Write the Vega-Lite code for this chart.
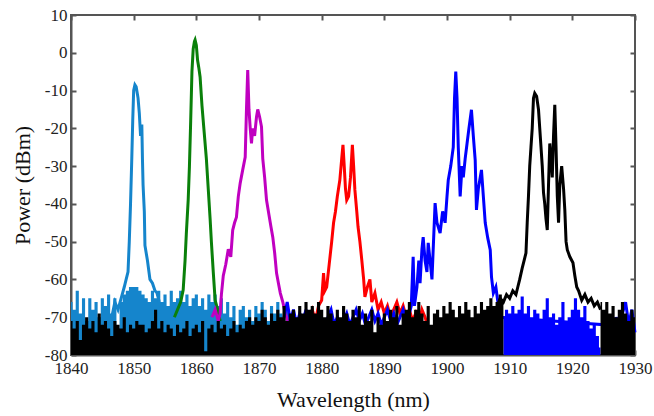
{
"$schema": "https://vega.github.io/schema/vega-lite/v6.json",
"width": 564, "height": 340,
"autosize": "none",
"padding": {"left": 71, "top": 15, "right": 19, "bottom": 61},
"background": "white",
"config": {
 "view": {"stroke": "#555", "strokeWidth": 2},
 "axis": {"labelFont": "Liberation Serif", "titleFont": "Liberation Serif", "labelFontSize": 17, "titleFontSize": 22, "titleFontWeight": "normal", "labelColor": "#222", "titleColor": "#111", "domainColor": "#555", "tickColor": "#555", "domainWidth": 2, "tickWidth": 2, "tickSize": -5, "grid": false}
},
"datasets": {
"fl": [
{"s":"lb","w":1840,"p":-66},{"s":"lb","w":1840.5,"p":-68},{"s":"lb","w":1841,"p":-63},{"s":"lb","w":1841.5,"p":-69},{"s":"lb","w":1842,"p":-65},{"s":"lb","w":1842.5,"p":-71},{"s":"lb","w":1843,"p":-65},{"s":"lb","w":1843.5,"p":-68},{"s":"lb","w":1844,"p":-66},{"s":"lb","w":1844.5,"p":-70},{"s":"lb","w":1845,"p":-65},{"s":"lb","w":1845.5,"p":-67},{"s":"lb","w":1846,"p":-64},{"s":"lb","w":1846.5,"p":-69},{"s":"lb","w":1847,"p":-65},{"s":"lb","w":1847.5,"p":-73},{"s":"lb","w":1848,"p":-66},{"s":"lb","w":1848.5,"p":-64},{"s":"lb","w":1849,"p":-63},{"s":"lb","w":1849.5,"p":-62},{"s":"lb","w":1850,"p":-62},{"s":"lb","w":1850.5,"p":-62},{"s":"lb","w":1851,"p":-63},{"s":"lb","w":1851.5,"p":-64},{"s":"lb","w":1852,"p":-65},{"s":"lb","w":1852.5,"p":-66},{"s":"lb","w":1853,"p":-63},{"s":"lb","w":1853.5,"p":-65},{"s":"lb","w":1854,"p":-63},{"s":"lb","w":1854.5,"p":-66},{"s":"lb","w":1855,"p":-64},{"s":"lb","w":1855.5,"p":-67},{"s":"lb","w":1856,"p":-63},{"s":"lb","w":1856.5,"p":-66},{"s":"lb","w":1857,"p":-65},{"s":"lb","w":1857.5,"p":-63},{"s":"lb","w":1858,"p":-66},{"s":"lb","w":1858.5,"p":-64},{"s":"lb","w":1859,"p":-67},{"s":"lb","w":1859.5,"p":-65},{"s":"lb","w":1860,"p":-64},{"s":"lb","w":1860.5,"p":-67},{"s":"lb","w":1861,"p":-65},{"s":"lb","w":1861.5,"p":-68},{"s":"lb","w":1862,"p":-64},{"s":"lb","w":1862.5,"p":-66},{"s":"lb","w":1863,"p":-64},{"s":"lb","w":1863.5,"p":-67},{"s":"lb","w":1864,"p":-65},{"s":"lb","w":1864.5,"p":-69},{"s":"lb","w":1865,"p":-66},{"s":"lb","w":1865.5,"p":-70},{"s":"lb","w":1866,"p":-67},{"s":"lb","w":1866.5,"p":-72},{"s":"lb","w":1867,"p":-68},{"s":"lb","w":1867.5,"p":-67},{"s":"lb","w":1868,"p":-70},{"s":"lb","w":1868.5,"p":-68},{"s":"lb","w":1869,"p":-71},{"s":"lb","w":1869.5,"p":-67},{"s":"lb","w":1870,"p":-69},{"s":"lb","w":1870.5,"p":-66},{"s":"lb","w":1871,"p":-68},{"s":"lb","w":1871.5,"p":-71},{"s":"lb","w":1872,"p":-67},{"s":"lb","w":1872.5,"p":-69},{"s":"lb","w":1873,"p":-66},{"s":"lb","w":1873.5,"p":-69},{"s":"lb","w":1874,"p":-71},{"s":"lb","w":1874.5,"p":-68},{"s":"lb","w":1875,"p":-72},{"s":"lb","w":1875.5,"p":-75},{"s":"lb","w":1876,"p":-78},
{"s":"b","w":1909,"p":-70},{"s":"b","w":1909.5,"p":-68},{"s":"b","w":1910,"p":-69},{"s":"b","w":1910.5,"p":-67},{"s":"b","w":1911,"p":-69},{"s":"b","w":1911.5,"p":-68},{"s":"b","w":1912,"p":-64.5},{"s":"b","w":1912.5,"p":-69},{"s":"b","w":1913,"p":-67},{"s":"b","w":1913.5,"p":-70},{"s":"b","w":1914,"p":-68},{"s":"b","w":1914.5,"p":-69},{"s":"b","w":1915,"p":-71},{"s":"b","w":1915.5,"p":-68},{"s":"b","w":1916,"p":-65},{"s":"b","w":1916.5,"p":-70},{"s":"b","w":1917,"p":-69},{"s":"b","w":1917.5,"p":-72},{"s":"b","w":1918,"p":-70},{"s":"b","w":1918.5,"p":-66},{"s":"b","w":1919,"p":-71},{"s":"b","w":1919.5,"p":-70},{"s":"b","w":1920,"p":-68},{"s":"b","w":1920.5,"p":-65},{"s":"b","w":1921,"p":-68},{"s":"b","w":1921.5,"p":-70},{"s":"b","w":1922,"p":-67},{"s":"b","w":1922.5,"p":-71},{"s":"b","w":1923,"p":-73},{"s":"b","w":1923.5,"p":-72},{"s":"b","w":1924,"p":-75},{"s":"b","w":1924.5,"p":-78},
{"s":"k","w":1840,"p":-71},{"s":"k","w":1840.5,"p":-73},{"s":"k","w":1841,"p":-71},{"s":"k","w":1841.5,"p":-76},{"s":"k","w":1842,"p":-72},{"s":"k","w":1842.5,"p":-70},{"s":"k","w":1843,"p":-73},{"s":"k","w":1843.5,"p":-71},{"s":"k","w":1844,"p":-74},{"s":"k","w":1844.5,"p":-69},{"s":"k","w":1845,"p":-72},{"s":"k","w":1845.5,"p":-71},{"s":"k","w":1846,"p":-73},{"s":"k","w":1846.5,"p":-75},{"s":"k","w":1847,"p":-71},{"s":"k","w":1847.5,"p":-72},{"s":"k","w":1848,"p":-73},{"s":"k","w":1848.5,"p":-70},{"s":"k","w":1849,"p":-74},{"s":"k","w":1849.5,"p":-72},{"s":"k","w":1850,"p":-73},{"s":"k","w":1850.5,"p":-71},{"s":"k","w":1851,"p":-72},{"s":"k","w":1851.5,"p":-72},{"s":"k","w":1852,"p":-74},{"s":"k","w":1852.5,"p":-73},{"s":"k","w":1853,"p":-71},{"s":"k","w":1853.5,"p":-68},{"s":"k","w":1854,"p":-73},{"s":"k","w":1854.5,"p":-71},{"s":"k","w":1855,"p":-74},{"s":"k","w":1855.5,"p":-72},{"s":"k","w":1856,"p":-73},{"s":"k","w":1856.5,"p":-75},{"s":"k","w":1857,"p":-72},{"s":"k","w":1857.5,"p":-74},{"s":"k","w":1858,"p":-73},{"s":"k","w":1858.5,"p":-71},{"s":"k","w":1859,"p":-75},{"s":"k","w":1859.5,"p":-73},{"s":"k","w":1860,"p":-72},{"s":"k","w":1860.5,"p":-74},{"s":"k","w":1861,"p":-71},{"s":"k","w":1861.5,"p":-79},{"s":"k","w":1862,"p":-73},{"s":"k","w":1862.5,"p":-72},{"s":"k","w":1863,"p":-74},{"s":"k","w":1863.5,"p":-71},{"s":"k","w":1864,"p":-73},{"s":"k","w":1864.5,"p":-72},{"s":"k","w":1865,"p":-75},{"s":"k","w":1865.5,"p":-73},{"s":"k","w":1866,"p":-71},{"s":"k","w":1866.5,"p":-74},{"s":"k","w":1867,"p":-72},{"s":"k","w":1867.5,"p":-73},{"s":"k","w":1868,"p":-71},{"s":"k","w":1868.5,"p":-70},{"s":"k","w":1869,"p":-72},{"s":"k","w":1869.5,"p":-70},{"s":"k","w":1870,"p":-71},{"s":"k","w":1870.5,"p":-68},{"s":"k","w":1871,"p":-70},{"s":"k","w":1871.5,"p":-72},{"s":"k","w":1872,"p":-69},{"s":"k","w":1872.5,"p":-71},{"s":"k","w":1873,"p":-68},{"s":"k","w":1873.5,"p":-70},{"s":"k","w":1874,"p":-67},{"s":"k","w":1874.5,"p":-71},{"s":"k","w":1875,"p":-69},{"s":"k","w":1875.5,"p":-68},{"s":"k","w":1876,"p":-70},{"s":"k","w":1876.5,"p":-67},{"s":"k","w":1877,"p":-69},{"s":"k","w":1877.5,"p":-66},{"s":"k","w":1878,"p":-68},{"s":"k","w":1878.5,"p":-67},{"s":"k","w":1879,"p":-69},{"s":"k","w":1879.5,"p":-66},{"s":"k","w":1880,"p":-68},{"s":"k","w":1880.5,"p":-70},{"s":"k","w":1881,"p":-67},{"s":"k","w":1881.5,"p":-69},{"s":"k","w":1882,"p":-71},{"s":"k","w":1882.5,"p":-68},{"s":"k","w":1883,"p":-70},{"s":"k","w":1883.5,"p":-67},{"s":"k","w":1884,"p":-69},{"s":"k","w":1884.5,"p":-71},{"s":"k","w":1885,"p":-68},{"s":"k","w":1885.5,"p":-70},{"s":"k","w":1886,"p":-67},{"s":"k","w":1886.5,"p":-72},{"s":"k","w":1887,"p":-69},{"s":"k","w":1887.5,"p":-71},{"s":"k","w":1888,"p":-68},{"s":"k","w":1888.5,"p":-74},{"s":"k","w":1889,"p":-70},{"s":"k","w":1889.5,"p":-72},{"s":"k","w":1890,"p":-69},{"s":"k","w":1890.5,"p":-71},{"s":"k","w":1891,"p":-68},{"s":"k","w":1891.5,"p":-70},{"s":"k","w":1892,"p":-67},{"s":"k","w":1892.5,"p":-72},{"s":"k","w":1893,"p":-69},{"s":"k","w":1893.5,"p":-68},{"s":"k","w":1894,"p":-66},{"s":"k","w":1894.5,"p":-70},{"s":"k","w":1895,"p":-68},{"s":"k","w":1895.5,"p":-66},{"s":"k","w":1896,"p":-69},{"s":"k","w":1896.5,"p":-71},{"s":"k","w":1897,"p":-67},{"s":"k","w":1897.5,"p":-72},{"s":"k","w":1898,"p":-69},{"s":"k","w":1898.5,"p":-68},{"s":"k","w":1899,"p":-70},{"s":"k","w":1899.5,"p":-67},{"s":"k","w":1900,"p":-69},{"s":"k","w":1900.5,"p":-66},{"s":"k","w":1901,"p":-68},{"s":"k","w":1901.5,"p":-70},{"s":"k","w":1902,"p":-67},{"s":"k","w":1902.5,"p":-69},{"s":"k","w":1903,"p":-66},{"s":"k","w":1903.5,"p":-68},{"s":"k","w":1904,"p":-70},{"s":"k","w":1904.5,"p":-67},{"s":"k","w":1905,"p":-69},{"s":"k","w":1905.5,"p":-66},{"s":"k","w":1906,"p":-68},{"s":"k","w":1906.5,"p":-67},{"s":"k","w":1907,"p":-65},{"s":"k","w":1907.5,"p":-67},{"s":"k","w":1908,"p":-66},{"s":"k","w":1908.5,"p":-64},{"s":"k","w":1909,"p":-66},
{"s":"k2","w":1924.5,"p":-66},{"s":"k2","w":1925,"p":-68},{"s":"k2","w":1925.5,"p":-66},{"s":"k2","w":1926,"p":-69},{"s":"k2","w":1926.5,"p":-67},{"s":"k2","w":1927,"p":-70},{"s":"k2","w":1927.5,"p":-68},{"s":"k2","w":1928,"p":-66},{"s":"k2","w":1928.5,"p":-69},{"s":"k2","w":1929,"p":-71},{"s":"k2","w":1929.5,"p":-68},{"s":"k2","w":1930,"p":-70}
],
"pk": [
{"s":"lb","w":1846.5,"p":-70},{"s":"lb","w":1847,"p":-66},{"s":"lb","w":1847.5,"p":-68},{"s":"lb","w":1848,"p":-65},{"s":"lb","w":1848.5,"p":-62},{"s":"lb","w":1848.8,"p":-60},{"s":"lb","w":1849.1,"p":-58},{"s":"lb","w":1849.3,"p":-50},{"s":"lb","w":1849.5,"p":-40},{"s":"lb","w":1849.7,"p":-28},{"s":"lb","w":1849.85,"p":-18},{"s":"lb","w":1850,"p":-10},{"s":"lb","w":1850.2,"p":-8.5},{"s":"lb","w":1850.4,"p":-9},{"s":"lb","w":1850.6,"p":-11},{"s":"lb","w":1850.7,"p":-12},{"s":"lb","w":1850.9,"p":-16},{"s":"lb","w":1851.1,"p":-22},{"s":"lb","w":1851.3,"p":-19},{"s":"lb","w":1851.4,"p":-28},{"s":"lb","w":1851.5,"p":-35},{"s":"lb","w":1851.7,"p":-42},{"s":"lb","w":1851.8,"p":-51},{"s":"lb","w":1852.2,"p":-55},{"s":"lb","w":1852.6,"p":-60},{"s":"lb","w":1853,"p":-61},{"s":"lb","w":1853.4,"p":-63},{"s":"lb","w":1853.7,"p":-63.5},{"s":"lb","w":1854.1,"p":-66},{"s":"lb","w":1854.5,"p":-68},
{"s":"g","w":1856.5,"p":-70},{"s":"g","w":1857,"p":-68},{"s":"g","w":1857.5,"p":-66},{"s":"g","w":1857.9,"p":-62.8},{"s":"g","w":1858.2,"p":-55},{"s":"g","w":1858.4,"p":-48},{"s":"g","w":1858.7,"p":-39},{"s":"g","w":1858.9,"p":-30},{"s":"g","w":1859.1,"p":-18},{"s":"g","w":1859.3,"p":-5},{"s":"g","w":1859.5,"p":1},{"s":"g","w":1859.7,"p":3},{"s":"g","w":1859.8,"p":3.4},{"s":"g","w":1860,"p":2},{"s":"g","w":1860.2,"p":-2},{"s":"g","w":1860.4,"p":-4},{"s":"g","w":1860.6,"p":-6.4},{"s":"g","w":1860.9,"p":-14},{"s":"g","w":1861.2,"p":-20},{"s":"g","w":1861.6,"p":-28},{"s":"g","w":1861.9,"p":-36},{"s":"g","w":1862.2,"p":-44},{"s":"g","w":1862.4,"p":-50},{"s":"g","w":1862.7,"p":-58},{"s":"g","w":1863,"p":-65.5},{"s":"g","w":1863.4,"p":-68},{"s":"g","w":1863.8,"p":-71},
{"s":"m","w":1862.5,"p":-70},{"s":"m","w":1863,"p":-68},{"s":"m","w":1863.5,"p":-71},{"s":"m","w":1863.8,"p":-69},{"s":"m","w":1864,"p":-64},{"s":"m","w":1864.3,"p":-59},{"s":"m","w":1864.7,"p":-56},{"s":"m","w":1865.1,"p":-52},{"s":"m","w":1865.5,"p":-54},{"s":"m","w":1865.8,"p":-47},{"s":"m","w":1866.1,"p":-45},{"s":"m","w":1866.4,"p":-43.5},{"s":"m","w":1866.7,"p":-38},{"s":"m","w":1867,"p":-34.5},{"s":"m","w":1867.4,"p":-31},{"s":"m","w":1867.8,"p":-27.6},{"s":"m","w":1868,"p":-15},{"s":"m","w":1868.2,"p":-4.6},{"s":"m","w":1868.4,"p":-15},{"s":"m","w":1868.6,"p":-20},{"s":"m","w":1868.8,"p":-24},{"s":"m","w":1869,"p":-20},{"s":"m","w":1869.3,"p":-22},{"s":"m","w":1869.6,"p":-17},{"s":"m","w":1869.8,"p":-15},{"s":"m","w":1870.1,"p":-17},{"s":"m","w":1870.4,"p":-19.6},{"s":"m","w":1870.6,"p":-28},{"s":"m","w":1870.9,"p":-33},{"s":"m","w":1871.2,"p":-39},{"s":"m","w":1871.6,"p":-43},{"s":"m","w":1871.9,"p":-46},{"s":"m","w":1872.2,"p":-48.8},{"s":"m","w":1872.5,"p":-53},{"s":"m","w":1872.8,"p":-58.3},{"s":"m","w":1873.1,"p":-61},{"s":"m","w":1873.4,"p":-63.6},{"s":"m","w":1873.8,"p":-66},{"s":"m","w":1874.2,"p":-69},{"s":"m","w":1874.6,"p":-71},
{"s":"r","w":1878,"p":-70},{"s":"r","w":1878.5,"p":-68},{"s":"r","w":1879,"p":-71},{"s":"r","w":1879.5,"p":-67},{"s":"r","w":1880,"p":-65.5},{"s":"r","w":1880.3,"p":-58.3},{"s":"r","w":1880.5,"p":-63},{"s":"r","w":1880.8,"p":-62},{"s":"r","w":1881.2,"p":-56},{"s":"r","w":1881.6,"p":-50},{"s":"r","w":1881.9,"p":-45},{"s":"r","w":1882.2,"p":-42},{"s":"r","w":1882.5,"p":-38},{"s":"r","w":1882.9,"p":-33.7},{"s":"r","w":1883.2,"p":-28},{"s":"r","w":1883.4,"p":-24.4},{"s":"r","w":1883.6,"p":-30},{"s":"r","w":1883.8,"p":-36},{"s":"r","w":1884,"p":-39},{"s":"r","w":1884.3,"p":-38},{"s":"r","w":1884.6,"p":-33},{"s":"r","w":1884.9,"p":-24.4},{"s":"r","w":1885.1,"p":-30},{"s":"r","w":1885.3,"p":-36.3},{"s":"r","w":1885.6,"p":-42},{"s":"r","w":1885.8,"p":-46},{"s":"r","w":1886.1,"p":-50},{"s":"r","w":1886.4,"p":-54.8},{"s":"r","w":1886.7,"p":-60},{"s":"r","w":1886.9,"p":-64.6},{"s":"r","w":1887.3,"p":-62},{"s":"r","w":1887.7,"p":-60},{"s":"r","w":1888,"p":-66},{"s":"r","w":1888.5,"p":-63.6},{"s":"r","w":1889,"p":-68},{"s":"r","w":1889.5,"p":-66},{"s":"r","w":1890,"p":-69},{"s":"r","w":1890.5,"p":-67},{"s":"r","w":1891,"p":-70},{"s":"r","w":1891.5,"p":-68},{"s":"r","w":1892,"p":-66},{"s":"r","w":1892.5,"p":-69},{"s":"r","w":1893,"p":-67},{"s":"r","w":1893.5,"p":-70},{"s":"r","w":1894,"p":-68},{"s":"r","w":1894.5,"p":-71},{"s":"r","w":1895,"p":-69},{"s":"r","w":1895.5,"p":-72},{"s":"r","w":1896,"p":-68},{"s":"r","w":1896.5,"p":-70},{"s":"r","w":1897,"p":-73},{"s":"r","w":1897.5,"p":-75},
{"s":"b","w":1874,"p":-70},{"s":"b","w":1874.5,"p":-66},{"s":"b","w":1875,"p":-71},{"s":"b","w":1875.5,"p":-68},{"s":"b","w":1876,"p":-72},{"s":"b","w":1876.5,"p":-69},{"s":"b","w":1877,"p":-71},{"s":"b","w":1877.5,"p":-68},{"s":"b","w":1878,"p":-72},{"s":"b","w":1878.5,"p":-70},{"s":"b","w":1879,"p":-73},{"s":"b","w":1879.5,"p":-69},{"s":"b","w":1880,"p":-71},{"s":"b","w":1880.5,"p":-74},{"s":"b","w":1881,"p":-70},{"s":"b","w":1881.5,"p":-68},{"s":"b","w":1882,"p":-72},{"s":"b","w":1882.5,"p":-70},{"s":"b","w":1883,"p":-73},{"s":"b","w":1883.5,"p":-71},{"s":"b","w":1884,"p":-69},{"s":"b","w":1884.5,"p":-72},{"s":"b","w":1885,"p":-70},{"s":"b","w":1885.5,"p":-68},{"s":"b","w":1886,"p":-71},{"s":"b","w":1886.5,"p":-69},{"s":"b","w":1887,"p":-72},{"s":"b","w":1887.5,"p":-70},{"s":"b","w":1888,"p":-68},{"s":"b","w":1888.5,"p":-71},{"s":"b","w":1889,"p":-69},{"s":"b","w":1889.5,"p":-72},{"s":"b","w":1890,"p":-70},{"s":"b","w":1890.5,"p":-68},{"s":"b","w":1891,"p":-71},{"s":"b","w":1891.5,"p":-69},{"s":"b","w":1892,"p":-72},{"s":"b","w":1892.5,"p":-70},{"s":"b","w":1893,"p":-68},{"s":"b","w":1893.5,"p":-71},{"s":"b","w":1894,"p":-69},{"s":"b","w":1894.3,"p":-67},{"s":"b","w":1894.6,"p":-54},{"s":"b","w":1894.8,"p":-67},{"s":"b","w":1895.2,"p":-62},{"s":"b","w":1895.5,"p":-55},{"s":"b","w":1895.7,"p":-61},{"s":"b","w":1896,"p":-52},{"s":"b","w":1896.2,"p":-48.8},{"s":"b","w":1896.5,"p":-55},{"s":"b","w":1896.8,"p":-58},{"s":"b","w":1897,"p":-50.3},{"s":"b","w":1897.3,"p":-55},{"s":"b","w":1897.6,"p":-60},{"s":"b","w":1898.1,"p":-39.8},{"s":"b","w":1898.4,"p":-45},{"s":"b","w":1898.9,"p":-47.7},{"s":"b","w":1899.3,"p":-42},{"s":"b","w":1899.7,"p":-45},{"s":"b","w":1900,"p":-38},{"s":"b","w":1900.2,"p":-33.7},{"s":"b","w":1900.6,"p":-30},{"s":"b","w":1901,"p":-25},{"s":"b","w":1901.2,"p":-12},{"s":"b","w":1901.4,"p":-5},{"s":"b","w":1901.6,"p":-12},{"s":"b","w":1901.8,"p":-25},{"s":"b","w":1902.1,"p":-38},{"s":"b","w":1902.4,"p":-30},{"s":"b","w":1902.6,"p":-33},{"s":"b","w":1902.9,"p":-28},{"s":"b","w":1903.2,"p":-24},{"s":"b","w":1903.5,"p":-20},{"s":"b","w":1903.9,"p":-15.1},{"s":"b","w":1904.2,"p":-22},{"s":"b","w":1904.5,"p":-28.4},{"s":"b","w":1904.7,"p":-41.6},{"s":"b","w":1905,"p":-36},{"s":"b","w":1905.5,"p":-31},{"s":"b","w":1905.8,"p":-38},{"s":"b","w":1906.1,"p":-45},{"s":"b","w":1906.5,"p":-49},{"s":"b","w":1906.9,"p":-52.2},{"s":"b","w":1907.1,"p":-59.3},{"s":"b","w":1907.4,"p":-63.6},{"s":"b","w":1907.8,"p":-62},{"s":"b","w":1908.2,"p":-67},{"s":"b","w":1908.6,"p":-70},{"s":"b","w":1925,"p":-72},{"s":"b","w":1925.5,"p":-75},{"s":"b","w":1926,"p":-71},{"s":"b","w":1926.5,"p":-74},{"s":"b","w":1927,"p":-70},{"s":"b","w":1927.5,"p":-73},{"s":"b","w":1928,"p":-69},{"s":"b","w":1928.5,"p":-66},{"s":"b","w":1929,"p":-72},{"s":"b","w":1929.5,"p":-68},{"s":"b","w":1930,"p":-74},
{"s":"k","w":1908,"p":-67},{"s":"k","w":1908.5,"p":-65},{"s":"k","w":1909,"p":-66},{"s":"k","w":1909.5,"p":-64},{"s":"k","w":1910,"p":-65},{"s":"k","w":1910.5,"p":-63},{"s":"k","w":1911,"p":-64},{"s":"k","w":1911.3,"p":-62},{"s":"k","w":1911.6,"p":-60},{"s":"k","w":1912,"p":-57},{"s":"k","w":1912.3,"p":-55},{"s":"k","w":1912.6,"p":-53},{"s":"k","w":1912.8,"p":-45},{"s":"k","w":1913,"p":-38},{"s":"k","w":1913.2,"p":-30},{"s":"k","w":1913.4,"p":-25},{"s":"k","w":1913.6,"p":-20},{"s":"k","w":1913.8,"p":-12},{"s":"k","w":1914,"p":-10.7},{"s":"k","w":1914.3,"p":-11.5},{"s":"k","w":1914.6,"p":-15},{"s":"k","w":1914.8,"p":-20},{"s":"k","w":1915,"p":-25},{"s":"k","w":1915.2,"p":-30},{"s":"k","w":1915.4,"p":-37},{"s":"k","w":1915.6,"p":-40},{"s":"k","w":1915.8,"p":-44},{"s":"k","w":1916,"p":-46.9},{"s":"k","w":1916.2,"p":-35},{"s":"k","w":1916.4,"p":-24},{"s":"k","w":1916.6,"p":-28},{"s":"k","w":1916.8,"p":-33},{"s":"k","w":1917,"p":-22},{"s":"k","w":1917.2,"p":-13.8},{"s":"k","w":1917.4,"p":-25},{"s":"k","w":1917.6,"p":-38},{"s":"k","w":1917.8,"p":-45},{"s":"k","w":1918,"p":-35},{"s":"k","w":1918.3,"p":-30},{"s":"k","w":1918.6,"p":-36},{"s":"k","w":1918.8,"p":-41.6},{"s":"k","w":1919,"p":-50},{"s":"k","w":1919.2,"p":-52.2},{"s":"k","w":1919.6,"p":-54},{"s":"k","w":1920.1,"p":-55.6},{"s":"k","w":1920.4,"p":-59},{"s":"k","w":1920.7,"p":-62},{"s":"k","w":1921,"p":-63},{"s":"k","w":1921.5,"p":-65.5},{"s":"k","w":1922,"p":-64},{"s":"k","w":1922.5,"p":-66},{"s":"k","w":1923,"p":-65},{"s":"k","w":1923.5,"p":-67},{"s":"k","w":1924,"p":-66},{"s":"k","w":1924.5,"p":-68}
]
},
"encoding": {
 "x": {"field": "w", "type": "quantitative", "scale": {"domain": [1840, 1930], "nice": false, "zero": false}, "axis": null},
 "y": {"field": "p", "type": "quantitative", "scale": {"domain": [-80, 10], "nice": false, "zero": false}, "axis": null}
},
"resolve": {"axis": {"x": "independent", "y": "independent"}},
"layer": [
 {"data": {"name": "fl"}, "transform": [{"filter": "datum.s == 'lb'"}],
  "mark": {"type": "area", "color": "#1585cc", "interpolate": "step"},
  "encoding": {
   "x": {"field": "w", "type": "quantitative", "scale": {"domain": [1840, 1930], "nice": false, "zero": false}, "axis": {"orient": "bottom", "title": "Wavelength (nm)", "values": [1840,1850,1860,1870,1880,1890,1900,1910,1920,1930], "labelExpr": "'' + datum.value", "labelFont": "Liberation Serif", "titleFont": "Liberation Serif", "labelPadding": 10, "titlePadding": 13, "labelFlush": false}},
   "y": {"field": "p", "type": "quantitative", "scale": {"domain": [-80, 10], "nice": false, "zero": false}, "axis": {"orient": "left", "title": "Power (dBm)", "values": [-80,-70,-60,-50,-40,-30,-20,-10,0,10], "labelExpr": "'' + datum.value", "labelFont": "Liberation Serif", "titleFont": "Liberation Serif", "labelPadding": 9, "titlePadding": 10, "labelFlush": false}},
   "y2": {"datum": -80}}},
 {"data": {"name": "pk"}, "transform": [{"filter": "datum.s == 'lb'"}],
  "mark": {"type": "line", "color": "#1585cc", "strokeWidth": 3},
  "encoding": {
   "x": {"field": "w", "type": "quantitative", "scale": {"domain": [1840, 1930], "nice": false, "zero": false}, "axis": {"orient": "top", "title": null, "labels": false, "domain": false, "values": [1840,1850,1860,1870,1880,1890,1900,1910,1920,1930]}},
   "y": {"field": "p", "type": "quantitative", "scale": {"domain": [-80, 10], "nice": false, "zero": false}, "axis": {"orient": "right", "title": null, "labels": false, "domain": false, "values": [-80,-70,-60,-50,-40,-30,-20,-10,0,10]}}}},
 {"data": {"name": "pk"}, "transform": [{"filter": "datum.s == 'g'"}], "mark": {"type": "line", "color": "#0a800a", "strokeWidth": 3}},
 {"data": {"name": "pk"}, "transform": [{"filter": "datum.s == 'm'"}], "mark": {"type": "line", "color": "#c000c0", "strokeWidth": 3}},
 {"data": {"name": "pk"}, "transform": [{"filter": "datum.s == 'r'"}], "mark": {"type": "line", "color": "#ff0000", "strokeWidth": 3}},
 {"data": {"name": "fl"}, "transform": [{"filter": "datum.s == 'b'"}], "mark": {"type": "area", "color": "#0000ff", "interpolate": "step"}, "encoding": {"y2": {"datum": -80}}},
 {"data": {"name": "pk"}, "transform": [{"filter": "datum.s == 'b'"}], "mark": {"type": "line", "color": "#0000ff", "strokeWidth": 3}},
 {"data": {"name": "fl"}, "transform": [{"filter": "datum.s == 'k'"}], "mark": {"type": "area", "color": "#000000", "interpolate": "step"}, "encoding": {"y2": {"datum": -80}}},
 {"data": {"name": "fl"}, "transform": [{"filter": "datum.s == 'k2'"}], "mark": {"type": "area", "color": "#000000", "interpolate": "step"}, "encoding": {"y2": {"datum": -80}}},
 {"data": {"name": "pk"}, "transform": [{"filter": "datum.s == 'k'"}], "mark": {"type": "line", "color": "#000000", "strokeWidth": 3}}
]
}
